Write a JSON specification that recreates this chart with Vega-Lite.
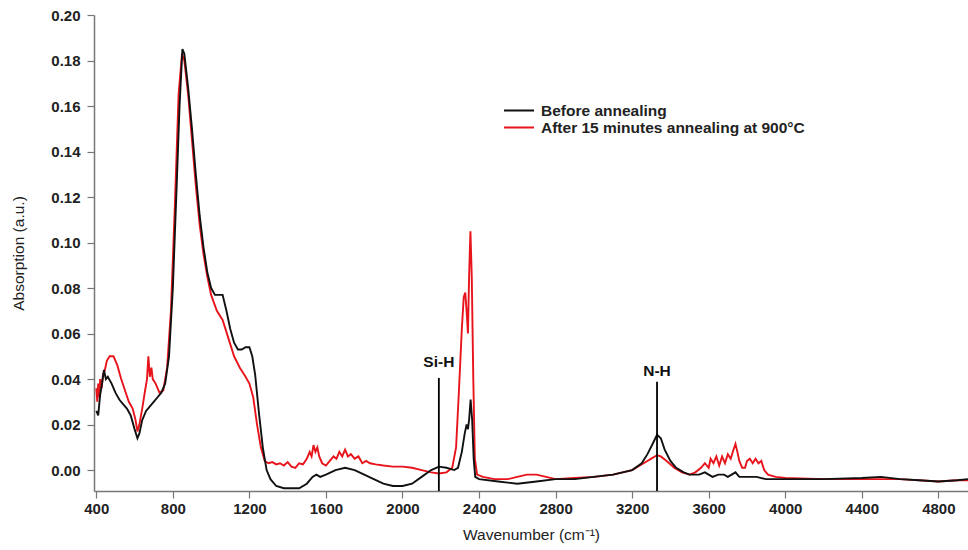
{
  "$schema": "https://vega.github.io/schema/vega-lite/v6.json",
  "width": 874,
  "height": 476,
  "autosize": "none",
  "padding": {"left": 94, "top": 15, "right": 0, "bottom": 59},
  "background": "white",
  "config": {
    "view": {"stroke": null},
    "font": "Liberation Sans"
  },
  "datasets": {
    "spectra": [
      {"w": 400, "a": 0.036, "s": "After 15 minutes annealing at 900°C"},
      {"w": 405, "a": 0.030, "s": "After 15 minutes annealing at 900°C"},
      {"w": 410, "a": 0.038, "s": "After 15 minutes annealing at 900°C"},
      {"w": 415, "a": 0.032, "s": "After 15 minutes annealing at 900°C"},
      {"w": 420, "a": 0.040, "s": "After 15 minutes annealing at 900°C"},
      {"w": 428, "a": 0.036, "s": "After 15 minutes annealing at 900°C"},
      {"w": 435, "a": 0.042, "s": "After 15 minutes annealing at 900°C"},
      {"w": 445, "a": 0.044, "s": "After 15 minutes annealing at 900°C"},
      {"w": 455, "a": 0.048, "s": "After 15 minutes annealing at 900°C"},
      {"w": 470, "a": 0.050, "s": "After 15 minutes annealing at 900°C"},
      {"w": 490, "a": 0.050, "s": "After 15 minutes annealing at 900°C"},
      {"w": 510, "a": 0.046, "s": "After 15 minutes annealing at 900°C"},
      {"w": 530, "a": 0.040, "s": "After 15 minutes annealing at 900°C"},
      {"w": 550, "a": 0.035, "s": "After 15 minutes annealing at 900°C"},
      {"w": 570, "a": 0.030, "s": "After 15 minutes annealing at 900°C"},
      {"w": 590, "a": 0.027, "s": "After 15 minutes annealing at 900°C"},
      {"w": 605, "a": 0.022, "s": "After 15 minutes annealing at 900°C"},
      {"w": 615, "a": 0.017, "s": "After 15 minutes annealing at 900°C"},
      {"w": 625, "a": 0.020, "s": "After 15 minutes annealing at 900°C"},
      {"w": 640, "a": 0.027, "s": "After 15 minutes annealing at 900°C"},
      {"w": 655, "a": 0.035, "s": "After 15 minutes annealing at 900°C"},
      {"w": 665, "a": 0.040, "s": "After 15 minutes annealing at 900°C"},
      {"w": 672, "a": 0.050, "s": "After 15 minutes annealing at 900°C"},
      {"w": 680, "a": 0.041, "s": "After 15 minutes annealing at 900°C"},
      {"w": 688, "a": 0.045, "s": "After 15 minutes annealing at 900°C"},
      {"w": 695, "a": 0.040, "s": "After 15 minutes annealing at 900°C"},
      {"w": 710, "a": 0.038, "s": "After 15 minutes annealing at 900°C"},
      {"w": 730, "a": 0.034, "s": "After 15 minutes annealing at 900°C"},
      {"w": 750, "a": 0.035, "s": "After 15 minutes annealing at 900°C"},
      {"w": 770, "a": 0.045, "s": "After 15 minutes annealing at 900°C"},
      {"w": 790, "a": 0.070, "s": "After 15 minutes annealing at 900°C"},
      {"w": 810, "a": 0.115, "s": "After 15 minutes annealing at 900°C"},
      {"w": 830, "a": 0.165, "s": "After 15 minutes annealing at 900°C"},
      {"w": 848, "a": 0.183, "s": "After 15 minutes annealing at 900°C"},
      {"w": 860, "a": 0.180, "s": "After 15 minutes annealing at 900°C"},
      {"w": 880, "a": 0.165, "s": "After 15 minutes annealing at 900°C"},
      {"w": 900, "a": 0.145, "s": "After 15 minutes annealing at 900°C"},
      {"w": 920, "a": 0.125, "s": "After 15 minutes annealing at 900°C"},
      {"w": 940, "a": 0.108, "s": "After 15 minutes annealing at 900°C"},
      {"w": 960, "a": 0.095, "s": "After 15 minutes annealing at 900°C"},
      {"w": 980, "a": 0.085, "s": "After 15 minutes annealing at 900°C"},
      {"w": 1000, "a": 0.077, "s": "After 15 minutes annealing at 900°C"},
      {"w": 1030, "a": 0.070, "s": "After 15 minutes annealing at 900°C"},
      {"w": 1060, "a": 0.066, "s": "After 15 minutes annealing at 900°C"},
      {"w": 1090, "a": 0.058, "s": "After 15 minutes annealing at 900°C"},
      {"w": 1120, "a": 0.050, "s": "After 15 minutes annealing at 900°C"},
      {"w": 1150, "a": 0.045, "s": "After 15 minutes annealing at 900°C"},
      {"w": 1180, "a": 0.041, "s": "After 15 minutes annealing at 900°C"},
      {"w": 1200, "a": 0.038, "s": "After 15 minutes annealing at 900°C"},
      {"w": 1220, "a": 0.032, "s": "After 15 minutes annealing at 900°C"},
      {"w": 1240, "a": 0.020, "s": "After 15 minutes annealing at 900°C"},
      {"w": 1260, "a": 0.010, "s": "After 15 minutes annealing at 900°C"},
      {"w": 1280, "a": 0.004, "s": "After 15 minutes annealing at 900°C"},
      {"w": 1300, "a": 0.003, "s": "After 15 minutes annealing at 900°C"},
      {"w": 1320, "a": 0.0035, "s": "After 15 minutes annealing at 900°C"},
      {"w": 1340, "a": 0.0025, "s": "After 15 minutes annealing at 900°C"},
      {"w": 1360, "a": 0.003, "s": "After 15 minutes annealing at 900°C"},
      {"w": 1380, "a": 0.002, "s": "After 15 minutes annealing at 900°C"},
      {"w": 1400, "a": 0.0035, "s": "After 15 minutes annealing at 900°C"},
      {"w": 1420, "a": 0.0015, "s": "After 15 minutes annealing at 900°C"},
      {"w": 1440, "a": 0.001, "s": "After 15 minutes annealing at 900°C"},
      {"w": 1460, "a": 0.003, "s": "After 15 minutes annealing at 900°C"},
      {"w": 1480, "a": 0.0025, "s": "After 15 minutes annealing at 900°C"},
      {"w": 1500, "a": 0.005, "s": "After 15 minutes annealing at 900°C"},
      {"w": 1515, "a": 0.008, "s": "After 15 minutes annealing at 900°C"},
      {"w": 1525, "a": 0.006, "s": "After 15 minutes annealing at 900°C"},
      {"w": 1535, "a": 0.011, "s": "After 15 minutes annealing at 900°C"},
      {"w": 1545, "a": 0.008, "s": "After 15 minutes annealing at 900°C"},
      {"w": 1555, "a": 0.010, "s": "After 15 minutes annealing at 900°C"},
      {"w": 1565, "a": 0.006, "s": "After 15 minutes annealing at 900°C"},
      {"w": 1580, "a": 0.003, "s": "After 15 minutes annealing at 900°C"},
      {"w": 1600, "a": 0.002, "s": "After 15 minutes annealing at 900°C"},
      {"w": 1620, "a": 0.004, "s": "After 15 minutes annealing at 900°C"},
      {"w": 1640, "a": 0.006, "s": "After 15 minutes annealing at 900°C"},
      {"w": 1655, "a": 0.005, "s": "After 15 minutes annealing at 900°C"},
      {"w": 1670, "a": 0.008, "s": "After 15 minutes annealing at 900°C"},
      {"w": 1685, "a": 0.006, "s": "After 15 minutes annealing at 900°C"},
      {"w": 1700, "a": 0.009, "s": "After 15 minutes annealing at 900°C"},
      {"w": 1715, "a": 0.006, "s": "After 15 minutes annealing at 900°C"},
      {"w": 1730, "a": 0.007, "s": "After 15 minutes annealing at 900°C"},
      {"w": 1750, "a": 0.005, "s": "After 15 minutes annealing at 900°C"},
      {"w": 1770, "a": 0.006, "s": "After 15 minutes annealing at 900°C"},
      {"w": 1790, "a": 0.003, "s": "After 15 minutes annealing at 900°C"},
      {"w": 1810, "a": 0.004, "s": "After 15 minutes annealing at 900°C"},
      {"w": 1830, "a": 0.003, "s": "After 15 minutes annealing at 900°C"},
      {"w": 1860, "a": 0.0025, "s": "After 15 minutes annealing at 900°C"},
      {"w": 1900, "a": 0.002, "s": "After 15 minutes annealing at 900°C"},
      {"w": 1950, "a": 0.0015, "s": "After 15 minutes annealing at 900°C"},
      {"w": 2000, "a": 0.0015, "s": "After 15 minutes annealing at 900°C"},
      {"w": 2050, "a": 0.001, "s": "After 15 minutes annealing at 900°C"},
      {"w": 2100, "a": 0.0, "s": "After 15 minutes annealing at 900°C"},
      {"w": 2150, "a": -0.001, "s": "After 15 minutes annealing at 900°C"},
      {"w": 2190, "a": -0.0015, "s": "After 15 minutes annealing at 900°C"},
      {"w": 2230, "a": -0.001, "s": "After 15 minutes annealing at 900°C"},
      {"w": 2260, "a": 0.001, "s": "After 15 minutes annealing at 900°C"},
      {"w": 2280, "a": 0.010, "s": "After 15 minutes annealing at 900°C"},
      {"w": 2295, "a": 0.035, "s": "After 15 minutes annealing at 900°C"},
      {"w": 2310, "a": 0.062, "s": "After 15 minutes annealing at 900°C"},
      {"w": 2320, "a": 0.076, "s": "After 15 minutes annealing at 900°C"},
      {"w": 2328, "a": 0.078, "s": "After 15 minutes annealing at 900°C"},
      {"w": 2335, "a": 0.070, "s": "After 15 minutes annealing at 900°C"},
      {"w": 2342, "a": 0.060, "s": "After 15 minutes annealing at 900°C"},
      {"w": 2348, "a": 0.085, "s": "After 15 minutes annealing at 900°C"},
      {"w": 2355, "a": 0.105, "s": "After 15 minutes annealing at 900°C"},
      {"w": 2362, "a": 0.085, "s": "After 15 minutes annealing at 900°C"},
      {"w": 2370, "a": 0.040, "s": "After 15 minutes annealing at 900°C"},
      {"w": 2378, "a": 0.005, "s": "After 15 minutes annealing at 900°C"},
      {"w": 2390, "a": -0.002, "s": "After 15 minutes annealing at 900°C"},
      {"w": 2420, "a": -0.003, "s": "After 15 minutes annealing at 900°C"},
      {"w": 2480, "a": -0.004, "s": "After 15 minutes annealing at 900°C"},
      {"w": 2550, "a": -0.004, "s": "After 15 minutes annealing at 900°C"},
      {"w": 2600, "a": -0.003, "s": "After 15 minutes annealing at 900°C"},
      {"w": 2650, "a": -0.002, "s": "After 15 minutes annealing at 900°C"},
      {"w": 2700, "a": -0.002, "s": "After 15 minutes annealing at 900°C"},
      {"w": 2750, "a": -0.003, "s": "After 15 minutes annealing at 900°C"},
      {"w": 2800, "a": -0.004, "s": "After 15 minutes annealing at 900°C"},
      {"w": 2900, "a": -0.0035, "s": "After 15 minutes annealing at 900°C"},
      {"w": 3000, "a": -0.003, "s": "After 15 minutes annealing at 900°C"},
      {"w": 3100, "a": -0.002, "s": "After 15 minutes annealing at 900°C"},
      {"w": 3200, "a": 0.0, "s": "After 15 minutes annealing at 900°C"},
      {"w": 3260, "a": 0.003, "s": "After 15 minutes annealing at 900°C"},
      {"w": 3300, "a": 0.005, "s": "After 15 minutes annealing at 900°C"},
      {"w": 3330, "a": 0.0065, "s": "After 15 minutes annealing at 900°C"},
      {"w": 3350, "a": 0.006, "s": "After 15 minutes annealing at 900°C"},
      {"w": 3380, "a": 0.004, "s": "After 15 minutes annealing at 900°C"},
      {"w": 3420, "a": 0.001, "s": "After 15 minutes annealing at 900°C"},
      {"w": 3460, "a": -0.001, "s": "After 15 minutes annealing at 900°C"},
      {"w": 3500, "a": -0.002, "s": "After 15 minutes annealing at 900°C"},
      {"w": 3530, "a": -0.001, "s": "After 15 minutes annealing at 900°C"},
      {"w": 3560, "a": 0.001, "s": "After 15 minutes annealing at 900°C"},
      {"w": 3580, "a": 0.003, "s": "After 15 minutes annealing at 900°C"},
      {"w": 3600, "a": 0.001, "s": "After 15 minutes annealing at 900°C"},
      {"w": 3610, "a": 0.005, "s": "After 15 minutes annealing at 900°C"},
      {"w": 3625, "a": 0.003, "s": "After 15 minutes annealing at 900°C"},
      {"w": 3640, "a": 0.006, "s": "After 15 minutes annealing at 900°C"},
      {"w": 3655, "a": 0.002, "s": "After 15 minutes annealing at 900°C"},
      {"w": 3670, "a": 0.006, "s": "After 15 minutes annealing at 900°C"},
      {"w": 3685, "a": 0.003, "s": "After 15 minutes annealing at 900°C"},
      {"w": 3700, "a": 0.007, "s": "After 15 minutes annealing at 900°C"},
      {"w": 3715, "a": 0.005, "s": "After 15 minutes annealing at 900°C"},
      {"w": 3730, "a": 0.009, "s": "After 15 minutes annealing at 900°C"},
      {"w": 3740, "a": 0.0115, "s": "After 15 minutes annealing at 900°C"},
      {"w": 3750, "a": 0.008, "s": "After 15 minutes annealing at 900°C"},
      {"w": 3760, "a": 0.004, "s": "After 15 minutes annealing at 900°C"},
      {"w": 3775, "a": 0.001, "s": "After 15 minutes annealing at 900°C"},
      {"w": 3790, "a": 0.001, "s": "After 15 minutes annealing at 900°C"},
      {"w": 3800, "a": 0.004, "s": "After 15 minutes annealing at 900°C"},
      {"w": 3815, "a": 0.005, "s": "After 15 minutes annealing at 900°C"},
      {"w": 3830, "a": 0.003, "s": "After 15 minutes annealing at 900°C"},
      {"w": 3845, "a": 0.005, "s": "After 15 minutes annealing at 900°C"},
      {"w": 3860, "a": 0.003, "s": "After 15 minutes annealing at 900°C"},
      {"w": 3875, "a": 0.004, "s": "After 15 minutes annealing at 900°C"},
      {"w": 3890, "a": 0.0, "s": "After 15 minutes annealing at 900°C"},
      {"w": 3910, "a": -0.002, "s": "After 15 minutes annealing at 900°C"},
      {"w": 3950, "a": -0.003, "s": "After 15 minutes annealing at 900°C"},
      {"w": 4000, "a": -0.0035, "s": "After 15 minutes annealing at 900°C"},
      {"w": 4200, "a": -0.004, "s": "After 15 minutes annealing at 900°C"},
      {"w": 4400, "a": -0.004, "s": "After 15 minutes annealing at 900°C"},
      {"w": 4600, "a": -0.004, "s": "After 15 minutes annealing at 900°C"},
      {"w": 4800, "a": -0.005, "s": "After 15 minutes annealing at 900°C"},
      {"w": 4900, "a": -0.0045, "s": "After 15 minutes annealing at 900°C"},
      {"w": 4955, "a": -0.0045, "s": "After 15 minutes annealing at 900°C"},

      {"w": 400, "a": 0.026, "s": "Before annealing"},
      {"w": 410, "a": 0.024, "s": "Before annealing"},
      {"w": 420, "a": 0.033, "s": "Before annealing"},
      {"w": 430, "a": 0.038, "s": "Before annealing"},
      {"w": 440, "a": 0.044, "s": "Before annealing"},
      {"w": 450, "a": 0.040, "s": "Before annealing"},
      {"w": 460, "a": 0.041, "s": "Before annealing"},
      {"w": 480, "a": 0.038, "s": "Before annealing"},
      {"w": 500, "a": 0.034, "s": "Before annealing"},
      {"w": 520, "a": 0.031, "s": "Before annealing"},
      {"w": 540, "a": 0.029, "s": "Before annealing"},
      {"w": 560, "a": 0.027, "s": "Before annealing"},
      {"w": 580, "a": 0.024, "s": "Before annealing"},
      {"w": 600, "a": 0.018, "s": "Before annealing"},
      {"w": 615, "a": 0.014, "s": "Before annealing"},
      {"w": 625, "a": 0.016, "s": "Before annealing"},
      {"w": 640, "a": 0.022, "s": "Before annealing"},
      {"w": 660, "a": 0.026, "s": "Before annealing"},
      {"w": 680, "a": 0.028, "s": "Before annealing"},
      {"w": 700, "a": 0.030, "s": "Before annealing"},
      {"w": 720, "a": 0.032, "s": "Before annealing"},
      {"w": 740, "a": 0.034, "s": "Before annealing"},
      {"w": 760, "a": 0.038, "s": "Before annealing"},
      {"w": 780, "a": 0.050, "s": "Before annealing"},
      {"w": 800, "a": 0.080, "s": "Before annealing"},
      {"w": 820, "a": 0.125, "s": "Before annealing"},
      {"w": 835, "a": 0.160, "s": "Before annealing"},
      {"w": 850, "a": 0.185, "s": "Before annealing"},
      {"w": 860, "a": 0.183, "s": "Before annealing"},
      {"w": 880, "a": 0.168, "s": "Before annealing"},
      {"w": 900, "a": 0.150, "s": "Before annealing"},
      {"w": 920, "a": 0.130, "s": "Before annealing"},
      {"w": 940, "a": 0.112, "s": "Before annealing"},
      {"w": 960, "a": 0.098, "s": "Before annealing"},
      {"w": 980, "a": 0.087, "s": "Before annealing"},
      {"w": 1000, "a": 0.080, "s": "Before annealing"},
      {"w": 1020, "a": 0.077, "s": "Before annealing"},
      {"w": 1040, "a": 0.077, "s": "Before annealing"},
      {"w": 1060, "a": 0.077, "s": "Before annealing"},
      {"w": 1080, "a": 0.070, "s": "Before annealing"},
      {"w": 1100, "a": 0.062, "s": "Before annealing"},
      {"w": 1120, "a": 0.056, "s": "Before annealing"},
      {"w": 1140, "a": 0.053, "s": "Before annealing"},
      {"w": 1160, "a": 0.053, "s": "Before annealing"},
      {"w": 1180, "a": 0.054, "s": "Before annealing"},
      {"w": 1200, "a": 0.054, "s": "Before annealing"},
      {"w": 1215, "a": 0.050, "s": "Before annealing"},
      {"w": 1230, "a": 0.042, "s": "Before annealing"},
      {"w": 1250, "a": 0.025, "s": "Before annealing"},
      {"w": 1270, "a": 0.010, "s": "Before annealing"},
      {"w": 1290, "a": 0.000, "s": "Before annealing"},
      {"w": 1310, "a": -0.004, "s": "Before annealing"},
      {"w": 1340, "a": -0.007, "s": "Before annealing"},
      {"w": 1380, "a": -0.008, "s": "Before annealing"},
      {"w": 1420, "a": -0.008, "s": "Before annealing"},
      {"w": 1460, "a": -0.008, "s": "Before annealing"},
      {"w": 1500, "a": -0.006, "s": "Before annealing"},
      {"w": 1530, "a": -0.003, "s": "Before annealing"},
      {"w": 1550, "a": -0.002, "s": "Before annealing"},
      {"w": 1570, "a": -0.003, "s": "Before annealing"},
      {"w": 1600, "a": -0.002, "s": "Before annealing"},
      {"w": 1650, "a": 0.000, "s": "Before annealing"},
      {"w": 1700, "a": 0.001, "s": "Before annealing"},
      {"w": 1750, "a": 0.000, "s": "Before annealing"},
      {"w": 1800, "a": -0.002, "s": "Before annealing"},
      {"w": 1850, "a": -0.004, "s": "Before annealing"},
      {"w": 1900, "a": -0.006, "s": "Before annealing"},
      {"w": 1950, "a": -0.007, "s": "Before annealing"},
      {"w": 2000, "a": -0.007, "s": "Before annealing"},
      {"w": 2050, "a": -0.006, "s": "Before annealing"},
      {"w": 2100, "a": -0.003, "s": "Before annealing"},
      {"w": 2150, "a": 0.000, "s": "Before annealing"},
      {"w": 2190, "a": 0.0015, "s": "Before annealing"},
      {"w": 2230, "a": 0.001, "s": "Before annealing"},
      {"w": 2270, "a": 0.000, "s": "Before annealing"},
      {"w": 2290, "a": 0.001, "s": "Before annealing"},
      {"w": 2310, "a": 0.008, "s": "Before annealing"},
      {"w": 2325, "a": 0.016, "s": "Before annealing"},
      {"w": 2335, "a": 0.020, "s": "Before annealing"},
      {"w": 2342, "a": 0.018, "s": "Before annealing"},
      {"w": 2348, "a": 0.022, "s": "Before annealing"},
      {"w": 2356, "a": 0.031, "s": "Before annealing"},
      {"w": 2364, "a": 0.022, "s": "Before annealing"},
      {"w": 2372, "a": 0.005, "s": "Before annealing"},
      {"w": 2380, "a": -0.003, "s": "Before annealing"},
      {"w": 2400, "a": -0.004, "s": "Before annealing"},
      {"w": 2500, "a": -0.005, "s": "Before annealing"},
      {"w": 2600, "a": -0.006, "s": "Before annealing"},
      {"w": 2700, "a": -0.005, "s": "Before annealing"},
      {"w": 2800, "a": -0.004, "s": "Before annealing"},
      {"w": 2900, "a": -0.004, "s": "Before annealing"},
      {"w": 3000, "a": -0.003, "s": "Before annealing"},
      {"w": 3100, "a": -0.002, "s": "Before annealing"},
      {"w": 3200, "a": 0.000, "s": "Before annealing"},
      {"w": 3250, "a": 0.003, "s": "Before annealing"},
      {"w": 3280, "a": 0.007, "s": "Before annealing"},
      {"w": 3310, "a": 0.012, "s": "Before annealing"},
      {"w": 3330, "a": 0.0155, "s": "Before annealing"},
      {"w": 3350, "a": 0.014, "s": "Before annealing"},
      {"w": 3370, "a": 0.009, "s": "Before annealing"},
      {"w": 3400, "a": 0.004, "s": "Before annealing"},
      {"w": 3430, "a": 0.001, "s": "Before annealing"},
      {"w": 3470, "a": -0.001, "s": "Before annealing"},
      {"w": 3500, "a": -0.002, "s": "Before annealing"},
      {"w": 3550, "a": -0.002, "s": "Before annealing"},
      {"w": 3580, "a": -0.001, "s": "Before annealing"},
      {"w": 3600, "a": -0.002, "s": "Before annealing"},
      {"w": 3620, "a": -0.003, "s": "Before annealing"},
      {"w": 3650, "a": -0.002, "s": "Before annealing"},
      {"w": 3680, "a": -0.002, "s": "Before annealing"},
      {"w": 3700, "a": -0.003, "s": "Before annealing"},
      {"w": 3720, "a": -0.002, "s": "Before annealing"},
      {"w": 3740, "a": -0.001, "s": "Before annealing"},
      {"w": 3760, "a": -0.003, "s": "Before annealing"},
      {"w": 3800, "a": -0.003, "s": "Before annealing"},
      {"w": 3850, "a": -0.003, "s": "Before annealing"},
      {"w": 3900, "a": -0.004, "s": "Before annealing"},
      {"w": 4000, "a": -0.004, "s": "Before annealing"},
      {"w": 4200, "a": -0.004, "s": "Before annealing"},
      {"w": 4400, "a": -0.0035, "s": "Before annealing"},
      {"w": 4500, "a": -0.003, "s": "Before annealing"},
      {"w": 4600, "a": -0.004, "s": "Before annealing"},
      {"w": 4700, "a": -0.0045, "s": "Before annealing"},
      {"w": 4800, "a": -0.005, "s": "Before annealing"},
      {"w": 4900, "a": -0.0045, "s": "Before annealing"},
      {"w": 4955, "a": -0.004, "s": "Before annealing"}
    ],
    "marks": [
      {"w": 2190, "top": 0.0405, "bottom": -0.0092, "label": "Si-H", "ly": 0.0476},
      {"w": 3330, "top": 0.0388, "bottom": -0.0092, "label": "N-H", "ly": 0.0434}
    ]
  },
  "layer": [
    {
      "data": {"name": "spectra"},
      "mark": {"type": "line", "strokeWidth": 1.9, "clip": true},
      "encoding": {
        "x": {
          "field": "w", "type": "quantitative",
          "scale": {"domain": [388, 4955], "nice": false, "zero": false},
          "axis": {
            "title": "Wavenumber (cm⁻¹)",
            "values": [400, 600, 800, 1000, 1200, 1400, 1600, 1800, 2000, 2200, 2400, 2600, 2800, 3000, 3200, 3400, 3600, 3800, 4000, 4200, 4400, 4600, 4800],
            "labelExpr": "datum.value % 400 == 0 ? datum.value : ''",
            "grid": false,
            "domainColor": "#777777",
            "domainWidth": 1.5,
            "tickColor": "#777777",
            "tickWidth": 1.2,
            "tickSize": 7,
            "labelFont": "Liberation Sans",
            "labelFontWeight": "bold",
            "labelFontSize": 15,
            "labelColor": "#222222",
            "labelPadding": 3,
            "labelFlush": false,
            "titleFont": "Liberation Sans",
            "titleFontWeight": "normal",
            "titleFontSize": 15.5,
            "titleColor": "#222222",
            "titlePadding": 11
          }
        },
        "y": {
          "field": "a", "type": "quantitative",
          "scale": {"domain": [-0.0092, 0.2], "nice": false, "zero": false},
          "axis": {
            "title": "Absorption (a.u.)",
            "values": [0, 0.02, 0.04, 0.06, 0.08, 0.1, 0.12, 0.14, 0.16, 0.18, 0.2],
            "format": ".2f",
            "grid": false,
            "domainColor": "#777777",
            "domainWidth": 1.5,
            "tickColor": "#777777",
            "tickWidth": 1.2,
            "tickSize": 7,
            "labelFont": "Liberation Sans",
            "labelFontWeight": "bold",
            "labelFontSize": 15,
            "labelColor": "#222222",
            "labelPadding": 7,
            "labelFlush": false,
            "titleFont": "Liberation Sans",
            "titleFontWeight": "normal",
            "titleFontSize": 15.5,
            "titleColor": "#222222",
            "titlePadding": 24
          }
        },
        "color": {
          "field": "s", "type": "nominal",
          "scale": {
            "domain": ["Before annealing", "After 15 minutes annealing at 900°C"],
            "range": ["#111111", "#e8141c"]
          },
          "legend": {
            "title": null,
            "orient": "none",
            "legendX": 409,
            "legendY": 87,
            "symbolType": "stroke",
            "symbolSize": 900,
            "symbolStrokeWidth": 2,
            "labelFont": "Liberation Sans",
            "labelFontWeight": "bold",
            "labelFontSize": 15.5,
            "labelColor": "#222222",
            "labelOffset": 6,
            "labelLimit": 0,
            "clipHeight": 17,
            "rowPadding": 0
          }
        }
      }
    },
    {
      "data": {"name": "marks"},
      "mark": {"type": "rule", "color": "#000000", "strokeWidth": 1.8},
      "encoding": {
        "x": {"field": "w", "type": "quantitative"},
        "y": {"field": "top", "type": "quantitative"},
        "y2": {"field": "bottom"}
      }
    },
    {
      "data": {"name": "marks"},
      "mark": {"type": "text", "font": "Liberation Sans", "fontWeight": "bold", "fontSize": 15.5, "color": "#111111", "align": "center", "baseline": "middle"},
      "encoding": {
        "x": {"field": "w", "type": "quantitative"},
        "y": {"field": "ly", "type": "quantitative"},
        "text": {"field": "label", "type": "nominal"}
      }
    }
  ]
}
